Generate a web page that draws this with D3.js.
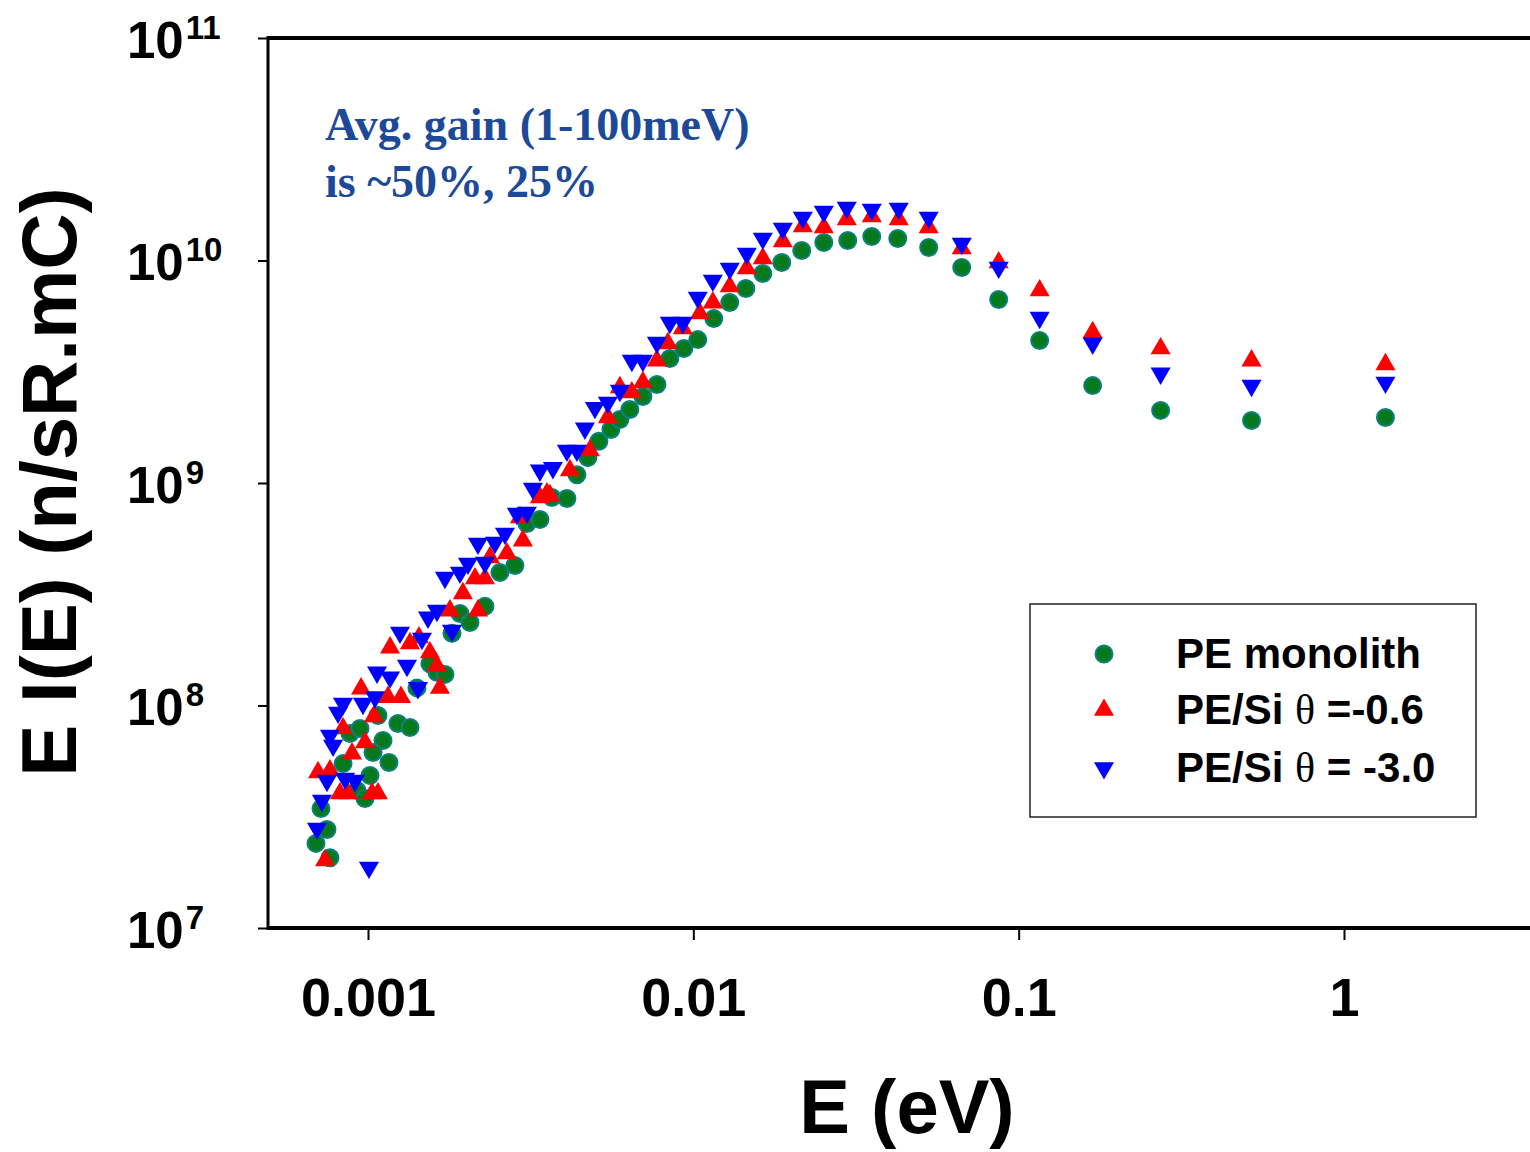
<!DOCTYPE html>
<html>
<head>
<meta charset="utf-8">
<script src="https://cdn.jsdelivr.net/npm/d3@7"></script>
<style>
  body { margin: 0; background: #fff; }
  text { font-family: "Liberation Sans", Arial, sans-serif; font-weight: bold; fill: #000; }
  text.note { font-family: "Liberation Serif", "Times New Roman", serif; fill: #1d4a98; }
</style>
</head>
<body>
<script>
// PE monolith
var peE = [6.92e-4, 7.48e-4, 7.64e-4, 7.17e-4, 8.38e-4, 9.25e-4, 9.79e-4, 1.014e-3, 8.80e-4, 9.45e-4,
  1.112e-3, 1.036e-3, 1.160e-3, 1.236e-3, 1.346e-3, 1.073e-3, 1.414e-3, 1.550e-3, 1.629e-3, 1.724e-3,
  1.812e-3, 1.917e-3, 2.058e-3, 2.288e-3, 2.544e-3, 2.828e-3, 3.079e-3, 3.376e-3, 3.676e-3, 4.087e-3,
  4.387e-3, 4.741e-3, 5.125e-3, 5.579e-3, 5.946e-3, 6.381e-3, 6.998e-3, 7.727e-3, 8.470e-3, 9.350e-3,
  1.032e-2, 1.156e-2, 1.294e-2, 1.450e-2, 1.635e-2, 1.870e-2, 2.154e-2, 2.518e-2, 2.983e-2, 3.536e-2,
  4.250e-2, 5.290e-2, 6.684e-2, 8.682e-2, 0.1160, 0.1688, 0.2731, 0.5197, 1.341];
var peI = [2.40e7, 2.77e7, 2.07e7, 3.44e7, 5.48e7, 4.15e7, 3.82e7, 4.85e7, 7.48e7, 7.88e7,
  6.96e7, 6.15e7, 5.54e7, 8.30e7, 7.96e7, 9.02e7, 1.20e8, 1.54e8, 1.41e8, 1.38e8,
  2.11e8, 2.59e8, 2.36e8, 2.79e8, 3.96e8, 4.26e8, 6.58e8, 6.86e8, 8.61e8, 8.52e8,
  1.09e9, 1.30e9, 1.54e9, 1.74e9, 1.93e9, 2.14e9, 2.45e9, 2.77e9, 3.63e9, 4.02e9,
  4.41e9, 5.48e9, 6.47e9, 7.48e9, 8.74e9, 9.79e9, 1.109e10, 1.205e10, 1.230e10, 1.282e10,
  1.256e10, 1.144e10, 9.30e9, 6.68e9, 4.37e9, 2.74e9, 2.12e9, 1.91e9, 1.97e9];

// PE/Si theta = -0.6
var si06E = [7.38e-4, 7.02e-4, 7.64e-4, 8.20e-4, 8.68e-4, 1.029e-3, 1.073e-3, 8.93e-4, 9.79e-4, 1.043e-3,
  8.38e-4, 9.52e-4, 1.152e-3, 1.263e-3, 1.169e-3, 1.346e-3, 1.434e-3, 1.550e-3, 1.664e-3, 1.629e-3,
  1.786e-3, 1.958e-3, 2.178e-3, 2.132e-3, 2.288e-3, 2.371e-3, 2.673e-3, 2.993e-3, 2.931e-3, 3.376e-3,
  3.548e-3, 3.624e-3, 4.175e-3, 4.809e-3, 5.462e-3, 5.946e-3, 6.471e-3, 6.998e-3, 7.727e-3, 8.352e-3,
  9.284e-3, 1.047e-2, 1.148e-2, 1.294e-2, 1.460e-2, 1.635e-2, 1.884e-2, 2.170e-2, 2.518e-2, 2.962e-2,
  3.536e-2, 4.279e-2, 5.290e-2, 6.684e-2, 8.682e-2, 0.1160, 0.1688, 0.2731, 0.5197, 1.341];
var si06I = [2.01e7, 5.00e7, 5.10e7, 4.02e7, 4.02e7, 4.02e7, 4.02e7, 6.08e7, 6.82e7, 8.93e7,
  7.88e7, 1.19e8, 1.09e8, 1.09e8, 1.82e8, 1.90e8, 2.02e8, 1.73e8, 1.20e8, 1.51e8,
  2.67e8, 3.19e8, 2.67e8, 3.72e8, 3.72e8, 4.63e8, 4.82e8, 5.51e8, 7.00e8, 8.61e8,
  8.97e8, 8.79e8, 1.14e9, 1.40e9, 1.97e9, 2.69e9, 2.55e9, 2.83e9, 3.55e9, 4.24e9,
  4.95e9, 5.78e9, 6.47e9, 7.64e9, 9.20e9, 1.021e10, 1.217e10, 1.422e10, 1.407e10, 1.529e10,
  1.577e10, 1.529e10, 1.407e10, 1.132e10, 9.79e9, 7.33e9, 4.75e9, 4.02e9, 3.55e9, 3.41e9];

// PE/Si theta = -3.0
var si30E = [6.97e-4, 7.22e-4, 7.48e-4, 8.50e-4, 9.12e-4, 7.64e-4, 7.81e-4, 8.09e-4, 8.38e-4, 9.65e-4,
  1.051e-3, 1.066e-3, 1.169e-3, 1.254e-3, 1.318e-3, 1.424e-3, 1.465e-3, 1.529e-3, 1.629e-3, 1.724e-3,
  1.812e-3, 1.917e-3, 2.029e-3, 2.178e-3, 2.288e-3, 2.456e-3, 2.636e-3, 2.869e-3, 3.079e-3, 3.213e-3,
  3.376e-3, 3.702e-3, 4.087e-3, 4.387e-3, 4.642e-3, 4.983e-3, 5.462e-3, 5.946e-3, 6.471e-3, 6.998e-3,
  7.727e-3, 8.470e-3, 9.284e-3, 1.032e-2, 1.148e-2, 1.294e-2, 1.460e-2, 1.635e-2, 1.884e-2, 2.170e-2,
  2.518e-2, 2.962e-2, 3.536e-2, 4.279e-2, 5.290e-2, 6.684e-2, 8.682e-2, 0.1160, 0.1688, 0.2731,
  0.5197, 1.341, 1.007e-3];
var si30I = [2.80e7, 3.74e7, 4.60e7, 4.70e7, 4.60e7, 7.33e7, 6.61e7, 9.30e7, 1.02e8, 1.02e8,
  1.09e8, 1.41e8, 1.34e8, 2.13e8, 1.51e8, 1.20e8, 2.00e8, 2.49e8, 2.67e8, 3.76e8,
  2.17e8, 3.96e8, 4.35e8, 5.35e8, 4.39e8, 5.40e8, 5.93e8, 7.29e8, 7.37e8, 9.45e8,
  1.14e9, 1.17e9, 1.40e9, 1.40e9, 1.76e9, 2.18e9, 2.30e9, 2.60e9, 3.55e9, 3.55e9,
  4.28e9, 5.26e9, 5.26e9, 6.82e9, 8.13e9, 9.20e9, 1.075e10, 1.256e10, 1.393e10, 1.561e10,
  1.660e10, 1.731e10, 1.695e10, 1.713e10, 1.561e10, 1.192e10, 9.30e9, 5.54e9, 4.24e9, 3.11e9,
  2.74e9, 2.83e9, 1.87e7];

var xTickValues = [0.001, 0.01, 0.1, 1];
var xTickLabels = ["0.001", "0.01", "0.1", "1"];
var yTickExps = [7, 8, 9, 10, 11];
var legendLabels = [["PE monolith"], ["PE/Si ", "\u03B8", " =-0.6"], ["PE/Si ", "\u03B8", " = -3.0"]];
var noteLines = ["Avg. gain (1-100meV)", "is ~50%, 25%"];

var width = 1530, height = 1152;
var svg = d3.select("body").append("svg")
    .attr("width", width)
    .attr("height", height);

var x = d3.scaleLog().domain([1e-3, 1]).range([368, 1344]);
var y = d3.scaleLog().domain([1e7, 1e11]).range([928, 38]);

var plotLeft = 268, plotRight = width,
    plotTop = y(1e11), plotBottom = y(1e7);

// x axis ticks + labels
var xAxis = d3.axisBottom(x)
    .tickValues(xTickValues)
    .tickSize(12)
    .tickPadding(38)
    .tickFormat(function (d, i) { return xTickLabels[i]; });

var xg = svg.append("g")
    .attr("transform", "translate(0," + plotBottom + ")")
    .call(xAxis);
xg.select(".domain").remove();
xg.selectAll(".tick line").attr("stroke", "#000").attr("stroke-width", 2);
xg.selectAll(".tick text")
    .attr("font-size", 54)
    .attr("dy", "0.71em");

// y axis ticks, labels as 10^n
var yAxis = d3.axisLeft(y)
    .tickValues(yTickExps.map(function (e) { return Math.pow(10, e); }))
    .tickSize(10)
    .tickFormat("");

var yg = svg.append("g")
    .attr("transform", "translate(" + plotLeft + ",0)")
    .call(yAxis);
yg.select(".domain").remove();
yg.selectAll(".tick line").attr("stroke", "#000").attr("stroke-width", 2);
yg.selectAll(".tick").each(function (d, i) {
    var t = d3.select(this).append("text")
        .attr("x", 127 - plotLeft)
        .attr("y", 19)
        .attr("text-anchor", "start")
        .attr("font-size", 51);
    t.append("tspan").text("10");
    t.append("tspan")
        .attr("font-size", 33)
        .attr("dx", 2)
        .attr("dy", -19)
        .text(yTickExps[i]);
});

// frame
svg.append("line").attr("x1", plotLeft).attr("x2", plotRight)
    .attr("y1", plotTop).attr("y2", plotTop)
    .attr("stroke", "#000").attr("stroke-width", 4);
svg.append("line").attr("x1", plotLeft).attr("x2", plotRight)
    .attr("y1", plotBottom).attr("y2", plotBottom)
    .attr("stroke", "#000").attr("stroke-width", 4);
svg.append("line").attr("x1", plotLeft).attr("x2", plotLeft)
    .attr("y1", plotTop - 2).attr("y2", plotBottom + 2)
    .attr("stroke", "#000").attr("stroke-width", 3);

// series
var triUp = d3.symbol().type(d3.symbolTriangle).size(175)();

svg.append("g").selectAll("circle")
    .data(d3.zip(peE, peI))
    .join("circle")
    .attr("cx", function (d) { return x(d[0]); })
    .attr("cy", function (d) { return y(d[1]); })
    .attr("r", 8.5)
    .attr("fill", "#047a1c")
    .attr("stroke", "#0b8080")
    .attr("stroke-width", 2);

svg.append("g").selectAll("path")
    .data(d3.zip(si06E, si06I))
    .join("path")
    .attr("d", triUp)
    .attr("transform", function (d) { return "translate(" + x(d[0]) + "," + y(d[1]) + ")"; })
    .attr("fill", "#ff0000");

svg.append("g").selectAll("path")
    .data(d3.zip(si30E, si30I))
    .join("path")
    .attr("d", triUp)
    .attr("transform", function (d) { return "translate(" + x(d[0]) + "," + y(d[1]) + ") rotate(180)"; })
    .attr("fill", "#0000ff");

// axis titles
svg.append("text")
    .attr("transform", "translate(76," + 482 + ") rotate(-90)")
    .attr("text-anchor", "middle")
    .attr("font-size", 78)
    .text("E I(E) (n/sR.mC)");

svg.append("text")
    .attr("x", 907)
    .attr("y", 1133)
    .attr("text-anchor", "middle")
    .attr("font-size", 76)
    .text("E (eV)");

// annotation
svg.append("g").selectAll("text")
    .data(noteLines)
    .join("text")
    .attr("class", "note")
    .attr("x", 325)
    .attr("y", function (d, i) { return 140 + i * 57; })
    .attr("font-size", 46)
    .text(function (d) { return d; });

// legend
var legend = svg.append("g");
legend.append("rect")
    .attr("x", 1030).attr("y", 604)
    .attr("width", 446).attr("height", 213)
    .attr("fill", "#fff")
    .attr("stroke", "#222").attr("stroke-width", 1.5);

var legendY = [654, 710, 768];
legend.append("circle")
    .attr("cx", 1104).attr("cy", legendY[0]).attr("r", 8.5)
    .attr("fill", "#047a1c").attr("stroke", "#0b8080").attr("stroke-width", 2);
legend.append("path")
    .attr("d", triUp)
    .attr("transform", "translate(1104," + legendY[1] + ")")
    .attr("fill", "#ff0000");
legend.append("path")
    .attr("d", triUp)
    .attr("transform", "translate(1104," + legendY[2] + ") rotate(180)")
    .attr("fill", "#0000ff");

legendLabels.forEach(function (parts, i) {
    var t = legend.append("text")
        .attr("x", 1176)
        .attr("y", legendY[i] + 14)
        .attr("font-size", 42);
    parts.forEach(function (p) {
        var s = t.append("tspan").text(p);
        if (p === "\u03B8") {
            s.style("font-family", "'Liberation Serif', 'Times New Roman', serif")
             .style("font-weight", "normal");
        }
    });
});
</script>
</body>
</html>
